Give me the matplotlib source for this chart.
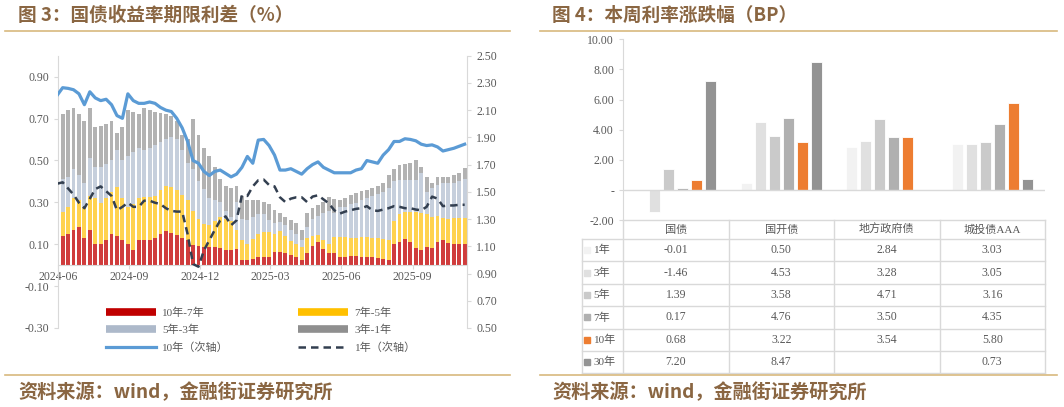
import numpy as np
import pandas as pd
import matplotlib
matplotlib.use('Agg')
import matplotlib.pyplot as plt
import matplotlib.dates as mdates
import matplotlib.transforms as mtransforms
from matplotlib.lines import Line2D
from matplotlib.ticker import FuncFormatter

plt.rcParams['font.family'] = ['Liberation Serif', 'Noto Sans CJK SC']

# ---- left chart: weekly term spreads (%), lines on secondary axis ----
dates = pd.date_range('2024-05-31', periods=76, freq='7D')

s10_7 = [0.14, 0.14, 0.15, 0.17, 0.18, 0.13, 0.17, 0.10, 0.10, 0.12,
         0.15, 0.14, 0.12, 0.10, 0.07, 0.12, 0.12, 0.12, 0.13, 0.15,
         0.165, 0.155, 0.145, 0.13, 0.12, 0.095, 0.09, 0.087, 0.087, 0.085,
         0.08, 0.07, 0.07, 0.075, 0.024, 0.024, 0.03, 0.04, 0.04, 0.04,
         0.064, 0.064, 0.056, 0.05, 0.04, 0.024, 0.056, 0.09, 0.11, 0.075,
         0.056, 0.056, 0.04, 0.04, 0.042, 0.042, 0.04, 0.037, 0.04, 0.035,
         0.03, 0.024, 0.10, 0.11, 0.125, 0.11, 0.08, 0.07, 0.085, 0.084,
         0.11, 0.12, 0.105, 0.10, 0.10, 0.10]
s7_5 = [0.14, 0.115, 0.13, 0.15, 0.13, 0.15, 0.16, 0.22, 0.195, 0.20,
        0.20, 0.235, 0.20, 0.18, 0.22, 0.20, 0.205, 0.205, 0.20, 0.21,
        0.215, 0.22, 0.215, 0.205, 0.19, 0.165, 0.13, 0.108, 0.103, 0.125,
        0.15, 0.15, 0.14, 0.095, 0.096, 0.076, 0.095, 0.11, 0.12, 0.12,
        0.086, 0.10, 0.084, 0.065, 0.06, 0.063, 0.074, 0.05, 0.033, 0.045,
        0.044, 0.079, 0.095, 0.095, 0.088, 0.088, 0.095, 0.098, 0.09, 0.093,
        0.097, 0.096, 0.11, 0.135, 0.13, 0.145, 0.175, 0.18, 0.16, 0.146,
        0.125, 0.105, 0.115, 0.125, 0.123, 0.123]
s5_3 = [0.16, 0.155, 0.14, 0.14, 0.12, 0.11, 0.18, 0.15, 0.175, 0.165,
        0.15, 0.175, 0.18, 0.24, 0.25, 0.24, 0.225, 0.235, 0.245, 0.23,
        0.22, 0.235, 0.24, 0.215, 0.18, 0.20, 0.18, 0.17, 0.13, 0.10,
        0.07, 0.04, 0.02, 0.13, 0.10, 0.115, 0.105, 0.095, 0.085, 0.055,
        0.05, 0.04, 0.05, 0.055, 0.05, 0.033, 0.05, 0.08, 0.092, 0.13,
        0.16, 0.115, 0.145, 0.145, 0.16, 0.165, 0.175, 0.185, 0.20, 0.212,
        0.223, 0.25, 0.19, 0.16, 0.15, 0.15, 0.15, 0.19, 0.105, 0.14,
        0.15, 0.165, 0.17, 0.165, 0.177, 0.187]
s3_1 = [0.25, 0.31, 0.32, 0.29, 0.29, 0.30, 0.24, 0.19, 0.195, 0.19,
        0.19, 0.08, 0.16, 0.22, 0.19, 0.16, 0.20, 0.18, 0.155, 0.135,
        0.12, 0.10, 0.09, 0.07, 0.11, 0.24, 0.22, 0.195, 0.20, 0.16,
        0.11, 0.12, 0.14, 0.08, 0.11, 0.095, 0.08, 0.065, 0.055, 0.075,
        0.062, 0.045, 0.04, 0.045, 0.05, 0.047, 0.07, 0.055, 0.05, 0.05,
        0.065, 0.065, 0.03, 0.04, 0.045, 0.05, 0.045, 0.04, 0.04, 0.04,
        0.04, 0.06, 0.06, 0.075, 0.08, 0.085, 0.095, 0.03, 0.07, 0.02,
        0.035, 0.03, 0.03, 0.04, 0.04, 0.055]
y10 = [2.21, 2.265, 2.26, 2.25, 2.22, 2.14, 2.235, 2.19, 2.17, 2.18,
       2.14, 2.06, 2.04, 2.22, 2.17, 2.15, 2.15, 2.16, 2.15, 2.12,
       2.10, 2.09, 2.04, 1.97, 1.87, 1.73, 1.71, 1.65, 1.62, 1.65,
       1.66, 1.635, 1.61, 1.63, 1.68, 1.76, 1.71, 1.88, 1.885, 1.84,
       1.77, 1.66, 1.66, 1.67, 1.65, 1.63, 1.67, 1.70, 1.72, 1.68,
       1.66, 1.64, 1.64, 1.64, 1.64, 1.66, 1.67, 1.73, 1.72, 1.71,
       1.77, 1.81, 1.87, 1.87, 1.89, 1.885, 1.875, 1.85, 1.84, 1.845,
       1.83, 1.80, 1.81, 1.82, 1.835, 1.85]
y1 = [1.56, 1.57, 1.525, 1.48, 1.42, 1.38, 1.45, 1.52, 1.54, 1.505,
      1.47, 1.365, 1.39, 1.42, 1.39, 1.39, 1.435, 1.435, 1.42, 1.41,
      1.38, 1.36, 1.355, 1.355, 1.19, 0.97, 0.95, 1.07, 1.145, 1.22,
      1.29, 1.32, 1.255, 1.29, 1.475, 1.47, 1.54, 1.585, 1.59, 1.55,
      1.54, 1.46, 1.425, 1.45, 1.46, 1.46, 1.425, 1.465, 1.475, 1.445,
      1.415, 1.365, 1.34, 1.355, 1.365, 1.375, 1.38, 1.395, 1.365, 1.36,
      1.37, 1.38, 1.395, 1.39, 1.38, 1.38, 1.37, 1.365, 1.39, 1.465,
      1.45, 1.395, 1.40, 1.40, 1.405, 1.405]

spread_labels = ['10年-7年', '7年-5年', '5年-3年', '3年-1年']
line_labels = ['10年（次轴）', '1年（次轴）']

# ---- right chart: weekly change (BP) ----
categories = ['国债', '国开债', '地方政府债', '城投债AAA']
terms = ['1年', '3年', '5年', '7年', '10年', '30年']
chg_1y = [-0.01, 0.50, 2.84, 3.03]
chg_3y = [-1.46, 4.53, 3.28, 3.05]
chg_5y = [1.39, 3.58, 4.71, 3.16]
chg_7y = [0.17, 4.76, 3.50, 4.35]
chg_10y = [0.68, 3.22, 3.54, 5.80]
chg_30y = [7.20, 8.47, np.nan, 0.73]

brown = '#8A6642'
gold = '#D8B97E'
grid = '#D9D9D9'
txt = '#595959'
W, H = 1064, 407

fig = plt.figure(figsize=(W / 100, H / 100), dpi=100)

# ================= left chart =================
ax = fig.add_axes([58 / W, 1 - 328 / H, 409 / W, 272.3 / H])
bar_cols = ['#D03C3C', '#FFD24F', '#C6CFDC', '#B2B2B2']
leg_cols = ['#C00000', '#FFC000', '#ADB9CA', '#8F8F8F']
bottom = np.zeros(len(dates))
for vals, c in zip([s10_7, s7_5, s5_3, s3_1], bar_cols):
    ax.bar(dates, vals, width=5, bottom=bottom, color=c, linewidth=0)
    bottom = bottom + np.array(vals)

ax.set_xlim(pd.Timestamp('2024-06-01'), pd.Timestamp('2025-11-10'))
ax.set_ylim(-0.3, 1.0)
ax.set_yticks(np.arange(-0.3, 0.91, 0.2))
ax.yaxis.set_major_formatter(FuncFormatter(lambda v, p: f'{v:.2f}'))
ax.set_xticks(pd.to_datetime(['2024-06-01', '2024-09-01', '2024-12-01',
                              '2025-03-01', '2025-06-01', '2025-09-01']))
ax.xaxis.set_major_formatter(mdates.DateFormatter('%Y-%m'))
for s in ['top', 'right']:
    ax.spines[s].set_visible(False)
ax.spines['left'].set_color(grid)
ax.spines['bottom'].set_color(grid)
ax.spines['bottom'].set_position(('data', 0))
ax.tick_params(colors=grid, labelcolor=txt, labelsize=8.5, length=3)
ax.tick_params(axis='x', pad=1)

axr = ax.twinx()
axr.plot(dates, y10, color='#5B9BD5', lw=2.3, solid_joinstyle='round')
axr.plot(dates, y1, color='#333F50', lw=1.8, dashes=(3, 2))
axr.set_ylim(0.5, 2.5)
axr.set_yticks(np.arange(0.5, 2.51, 0.2))
axr.yaxis.set_major_formatter(FuncFormatter(lambda v, p: f'{v:.2f}'))
for s in ['top', 'left', 'bottom']:
    axr.spines[s].set_visible(False)
axr.spines['right'].set_color(grid)
axr.tick_params(colors=grid, labelcolor=txt, labelsize=8.5, length=3)

handles = [Line2D([], [], color=leg_cols[0], lw=5.5, solid_capstyle='butt'),
           Line2D([], [], color=leg_cols[2], lw=5.5, solid_capstyle='butt'),
           Line2D([], [], color='#5B9BD5', lw=2.3),
           Line2D([], [], color=leg_cols[1], lw=5.5, solid_capstyle='butt'),
           Line2D([], [], color=leg_cols[3], lw=5.5, solid_capstyle='butt'),
           Line2D([], [], color='#333F50', lw=1.8, dashes=(3, 2))]
labels = [spread_labels[0], spread_labels[2], line_labels[0],
          spread_labels[1], spread_labels[3], line_labels[1]]
fig.legend(handles, labels, ncol=2, loc='upper left',
           bbox_to_anchor=(100 / W, 1 - 302 / H), frameon=False,
           fontsize=8, labelcolor=txt, handlelength=4.5, handletextpad=0.6,
           columnspacing=6.2, labelspacing=0.62, borderpad=0)

# ================= right chart =================
ax2 = fig.add_axes([623 / W, 1 - 220.5 / H, 422 / W, 181.5 / H])
term_vals = [chg_1y, chg_3y, chg_5y, chg_7y, chg_10y, chg_30y]
term_cols = ['#F2F2F2', '#E0E0E0', '#CACACA', '#B0B0B0', '#ED7D31', '#939393']
xc = np.arange(len(categories))
step, bw = 0.1327, 0.101
for j, (vals, c) in enumerate(zip(term_vals, term_cols)):
    ax2.bar(xc + (j - 2.5) * step, vals, width=bw, color=c,
            edgecolor='white', linewidth=0.6)
ax2.set_xlim(-0.5, len(categories) - 0.5)
ax2.set_ylim(-2, 10)
ax2.set_yticks(np.arange(-2, 10.1, 2))
ax2.yaxis.set_major_formatter(FuncFormatter(
    lambda v, p: '-' if abs(v) < 1e-9 else f'{v:.2f}'))
ax2.set_xticks([])
ax2.axhline(0, color=grid, lw=1)
for s in ['top', 'right', 'bottom']:
    ax2.spines[s].set_visible(False)
ax2.spines['left'].set_color(grid)
ax2.tick_params(colors=grid, labelcolor=txt, labelsize=8.5, length=3)

# data table under the bars
tr = mtransforms.blended_transform_factory(ax2.transData, fig.transFigure)
fy = lambda py: 1 - py / H
x_left = -0.5 - 41 / 105.5
hdr_top, hdr_bot, row_h = 220, 239, 22.4
row_edges = [hdr_bot + row_h * k for k in range(len(terms) + 1)]
lk = dict(color=grid, lw=1, transform=tr, clip_on=False)
fig.add_artist(Line2D([-0.5, 3.5], [fy(hdr_top)] * 2, **lk))
for e in row_edges:
    fig.add_artist(Line2D([x_left, 3.5], [fy(e)] * 2, **lk))
fig.add_artist(Line2D([x_left, x_left], [fy(hdr_bot), fy(row_edges[-1])], **lk))
for xb in np.arange(-0.5, 3.6, 1):
    fig.add_artist(Line2D([xb, xb], [fy(hdr_top), fy(row_edges[-1])], **lk))
for k, cat in enumerate(categories):
    fig.text(k, fy((hdr_top + hdr_bot) / 2), cat, transform=tr, ha='center',
             va='center', fontsize=8, color=txt)
for r, (t, vals, c) in enumerate(zip(terms, term_vals, term_cols)):
    yc = fy(row_edges[r] + row_h / 2)
    fig.add_artist(Line2D([x_left + 0.05], [yc], marker='s', ms=4.5, color=c,
                          lw=0, transform=tr))
    fig.text(x_left + 0.11, yc, t, transform=tr, ha='left', va='center',
             fontsize=8, color=txt)
    for k, v in enumerate(vals):
        if not np.isnan(v):
            fig.text(k, yc, f'{v:.2f}', transform=tr, ha='center',
                     va='center', fontsize=8.5, color=txt)

# ================= titles, rules, sources =================
tk = dict(fontweight='bold', color=brown, va='center',
          family=['Noto Sans CJK SC', 'DejaVu Sans'])
fig.text(18 / W, fy(15), '图 3：国债收益率期限利差（%）', fontsize=13.4, **tk)
fig.text(552 / W, fy(15), '图 4：本周利率涨跌幅（BP）', fontsize=13.4, **tk)
fig.text(18 / W, fy(392), '资料来源：wind，金融街证券研究所', fontsize=13.8, **tk)
fig.text(552 / W, fy(392), '资料来源：wind，金融街证券研究所', fontsize=13.8, **tk)
for x0, x1 in [(5, 510), (540, 1057)]:
    for yy in [31, 375]:
        fig.add_artist(Line2D([x0 / W, x1 / W], [fy(yy)] * 2, color=gold,
                              lw=1.2, transform=fig.transFigure))

fig.savefig('out.png', dpi=100)
